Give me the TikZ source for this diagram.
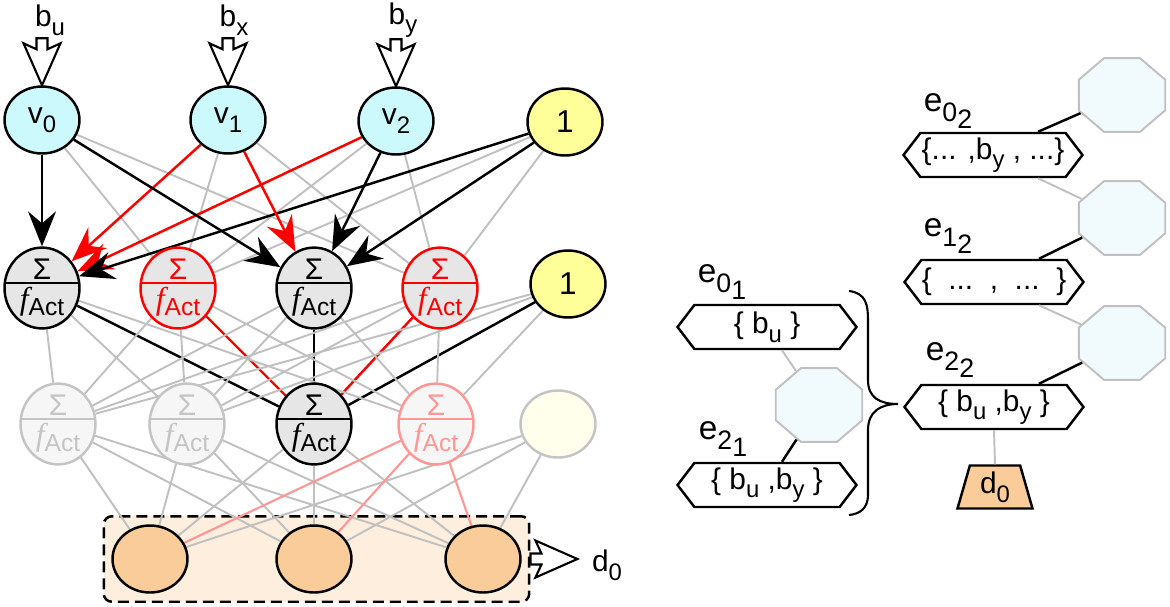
\documentclass[tikz,border=0pt]{standalone}
\usepackage{fontspec}
\setmainfont{Liberation Sans}
\newfontfamily\serifit{Liberation Serif}
\usetikzlibrary{shapes.geometric, shapes.symbols, arrows.meta, positioning, calc, fit, backgrounds}
\definecolor{incyan}{RGB}{204,250,252}
\definecolor{biasyellow}{RGB}{255,255,153}
\definecolor{paleyellow}{RGB}{255,255,236}
\definecolor{sumgrey}{RGB}{230,230,230}
\definecolor{fadegrey}{RGB}{246,246,246}
\definecolor{wiregrey}{RGB}{192,192,192}
\definecolor{fadetext}{RGB}{196,196,196}
\definecolor{pinkline}{RGB}{255,150,150}
\definecolor{outorange}{RGB}{250,204,153}
\definecolor{boxpeach}{RGB}{253,238,222}
\definecolor{octfill}{RGB}{241,250,252}

\newcommand{\lowsub}[1]{\raisebox{-0.55ex}{\scalebox{0.8}{#1}}}
\newcommand{\fact}{{\fontsize{18}{18}\selectfont\serifit\itshape f}\raisebox{-0.45ex}{Act}}
\newcommand{\sumtext}{{\fontsize{17}{17}\selectfont Σ}\\\fact}

\tikzset{
  neuron/.style={ellipse, draw=black, line width=1.4pt, minimum width=1.5cm, minimum height=1.34cm, inner sep=0pt},
  innode/.style={neuron, fill=incyan},
  biasnode/.style={neuron, fill=#1, font=\fontsize{18}{18}\selectfont},
  outnode/.style={neuron, fill=outorange},
  sumnode/.style 2 args={neuron, draw=#1, fill=#2, text=#1, align=center,
    font=\fontsize{14}{17}\selectfont,
    path picture={\draw[#1, line width=1.4pt] ($(path picture bounding box.west)+(0,-5)$) -- ($(path picture bounding box.east)+(0,-5)$);}},
  outbox/.style={draw, line width=1.4pt, dash pattern=on 0.22cm off 0.12cm, rounded corners=0.16cm, fill=boxpeach, inner xsep=0.15cm, inner ysep=0.16cm},
  wire/.style={draw=wiregrey, line width=1.1pt},
  pinkwire/.style={draw=pinkline, line width=1.2pt},
  hot/.style={draw=#1, line width=1.4pt},
  hotarrow/.style={hot=#1, -{Stealth[length=0.7cm, width=0.56cm, inset=0.24cm]}},
  fatarrow/.pic={\draw[line width=1.2pt, fill=white] (0,0) -- (-42,18.5) -- (-36,5.5) -- (-47,5.5) -- (-47,-5.5) -- (-36,-5.5) -- (-42,-18.5) -- cycle;},
  setbox/.style={signal, signal to=west and east, signal pointer angle=105, draw, line width=1.4pt, fill=white, minimum width=3.58cm, minimum height=0.88cm, inner sep=0pt, font=\fontsize{17}{17}\selectfont},
  octa/.style={regular polygon, regular polygon sides=8, minimum size=1.6cm, xscale=1.17, draw=wiregrey, line width=1.1pt, fill=octfill, inner sep=0pt},
  dnode/.style={trapezium, trapezium left angle=68, trapezium right angle=68, trapezium stretches body, draw, line width=1.4pt, fill=outorange, minimum width=1.5cm, minimum height=0.86cm, inner sep=0pt},
  elabel/.style={font=\fontsize{19}{19}\selectfont},
}

\begin{document}
\begin{tikzpicture}[x=0.02cm, y=-0.02cm, font=\fontsize{17}{20}\selectfont]
    \useasboundingbox (0,0) rectangle (1170,606);

    % inputs
    \node[innode] (v0) at (42,120) {v\lowsub{0}};
    \node[innode] (v1) at (228,120) {v\lowsub{1}};
    \node[innode] (v2) at (396,121) {v\lowsub{2}};
    \node[biasnode=biasyellow] (one) at (565,122) {1};

    \node (bu) at (50,20) {b\lowsub{u}};
    \node (bx) at (234,20) {b\lowsub{x}};
    \node (by) at (403,20) {b\lowsub{y}};
    \foreach \n in {v0,v1,v2}
        \pic[rotate=-90] at (\n.north) {fatarrow};

    % hidden layers
    \node[sumnode={black}{sumgrey}] (h0) at (42,288) {\sumtext};
    \node[sumnode={red}{sumgrey}] (h1) at (178,288) {\sumtext};
    \node[sumnode={black}{sumgrey}] (h2) at (314,288) {\sumtext};
    \node[sumnode={red}{sumgrey}] (h3) at (440,288) {\sumtext};
    \node[biasnode=biasyellow] (hb) at (568,284) {1};

    \node[sumnode={fadetext}{fadegrey}] (g0) at (58,424) {\sumtext};
    \node[sumnode={fadetext}{fadegrey}] (g1) at (187,424) {\sumtext};
    \node[sumnode={black}{sumgrey}] (g2) at (314,424) {\sumtext};
    \node[sumnode={pinkline}{fadegrey}] (g3) at (436,424) {\sumtext};
    \node[biasnode=paleyellow, draw=fadetext] (gb) at (558,424) {};

    % outputs
    \node[outnode] (o0) at (150,559) {};
    \node[outnode] (o1) at (314,559) {};
    \node[outnode] (o2) at (483,559) {};

    \begin{scope}[on background layer]
        \node[outbox, fit=(o0)(o2)] (outs) {};

        \foreach \a in {v0,v1,v2,one}{
            \foreach \b in {h1,h3}
                \draw[wire] (\a) -- (\b);
        }
        \draw[hotarrow=black] (v0) -- (h0);
        \draw[hotarrow=red] (v1) -- (h0);
        \draw[hotarrow=red] (v2) -- (h0);
        \draw[hotarrow=black] (one) -- (h0);
        \draw[hotarrow=black] (v0) -- (h2);
        \draw[hotarrow=red] (v1) -- (h2);
        \draw[hotarrow=black] (v2) -- (h2);
        \draw[hotarrow=black] (one) -- (h2);

        \draw[hot=black] (h0) -- (g2);
        \draw[hot=red] (h1) -- (g2);
        \draw[hot=black] (h2) -- (g2);
        \draw[hot=red] (h3) -- (g2);
        \draw[hot=black] (hb) -- (g2);
        \foreach \a in {h0,h1,h2,h3,hb}{
            \foreach \b in {g0,g1,g3}
                \draw[wire] (\a) -- (\b);
        }

        \foreach \a in {g0,g1,g2,gb}{
            \foreach \b in {o0,o1,o2}
                \draw[wire] (\a) -- (\b);
        }
        \foreach \b in {o0,o1,o2}
            \draw[pinkwire] (g3) -- (\b);
    \end{scope}

    \pic at ($(outs.east)+(47,0)$) {fatarrow};
    \node (dout) at (607,565) {d\lowsub{0}};

    % right part
    \node[octa] (oc1) at (1122,95) {};
    \node[octa] (oc2) at (1122,218) {};
    \node[octa] (oc3) at (1122,343) {};
    \node[octa] (ocl) at (819,405) {};

    \node[setbox] (e02) at (993,155) {\{... ,b\lowsub{y} , ...\}};
    \node[setbox] (e12) at (994,282) {\{ \ ...\ \ ,\ \ ...\ \ \}};
    \node[setbox] (e22) at (994,407) {\{ b\lowsub{u} ,b\lowsub{y} \}};
    \node[setbox] (e01) at (767,327) {\{ b\lowsub{u} \}};
    \node[setbox] (e21) at (767,485) {\{ b\lowsub{u} ,b\lowsub{y} \}};

    \node[elabel] (le02) at (948,111) {e\lowsub{0\raisebox{-0.5ex}{2}}};
    \node[elabel] (le12) at (948,236) {e\lowsub{1\raisebox{-0.5ex}{2}}};
    \node[elabel] (le22) at (950,360) {e\lowsub{2\raisebox{-0.5ex}{2}}};
    \node[elabel] (le01) at (722,282) {e\lowsub{0\raisebox{-0.5ex}{1}}};
    \node[elabel] (le21) at (723,439) {e\lowsub{2\raisebox{-0.5ex}{1}}};

    \node[dnode] (d0) at (995,487) {d\lowsub{0}};

    \draw[hot=black] ([xshift=0.9cm]e02.north) -- (oc1);
    \draw[wire] ([xshift=0.9cm]e02.south) -- (oc2);
    \draw[hot=black] ([xshift=0.9cm]e12.north) -- (oc2);
    \draw[wire] ([xshift=0.9cm]e12.south) -- (oc3);
    \draw[hot=black] ([xshift=0.9cm]e22.north) -- (oc3);
    \draw[wire] (e22.south) -- (d0.north);
    \draw[wire] ([xshift=0.3cm]e01.south) -- (ocl);
    \draw[hot=black] (ocl) -- ([xshift=0.3cm]e21.north);

    % brace
    \draw[line width=1.2pt] (849,291) .. controls (866,293) and (868,305) .. (868,320) -- (868,380)
        .. controls (868,398) and (880,404) .. (898,404)
        .. controls (880,404) and (868,412) .. (868,430) -- (868,495)
        .. controls (868,508) and (860,514) .. (849,515);
\end{tikzpicture}
\end{document}
